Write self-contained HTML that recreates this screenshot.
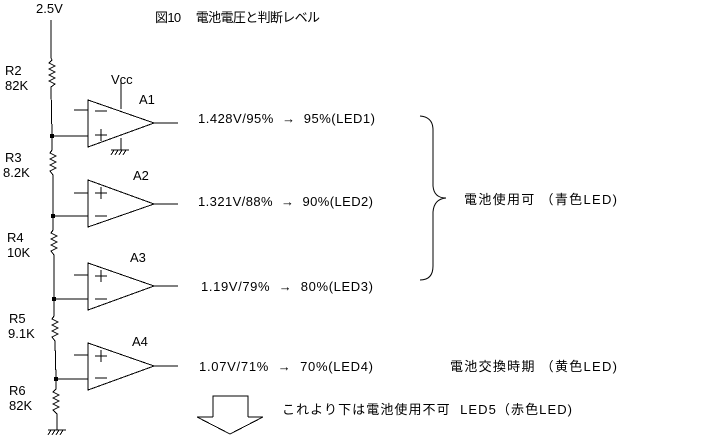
<!DOCTYPE html>
<html><head><meta charset="utf-8"><style>
html,body{margin:0;padding:0;background:#fff;}
svg{display:block;}
text{font-family:"Liberation Sans","Noto Sans CJK JP",sans-serif;font-size:13px;fill:#000;white-space:pre;}
</style></head><body>
<svg width="722" height="444" viewBox="0 0 722 444" xmlns="http://www.w3.org/2000/svg" xml:space="preserve">
<g stroke="#000" stroke-width="1" fill="none" shape-rendering="crispEdges">
<polyline points="51,20 51,58 52,60 49,63 55,66 49,69 55,72 49,75 55,78 49,81 55,84 51,87 52,136 52,150 50,153 56,156 50,159 56,162 50,165 56,168 50,171 53,175 53,216 53,230 51,233 57,236 51,239 57,242 51,245 57,248 51,251 54,255 54,299 54,316 52,319 58,322 52,325 58,328 52,331 58,334 52,337 55,341 56,379 56,389 53,392 59,395 53,398 59,401 53,404 59,407 53,410 57,414 57,430"/>
<line x1="48" y1="430" x2="66" y2="430"/>
<path d="M51,430 L48,435 M55,430 L52,435 M59,430 L56,435 M63,430 L60,435"/>
<polygon points="88,100 88,147 154,123"/>
<polygon points="88,180 88,227 154,204"/>
<polygon points="88,263 88,310 154,286"/>
<polygon points="88,343 88,390 154,366"/>
<line x1="74" y1="110" x2="88" y2="110"/><line x1="52" y1="136" x2="88" y2="136"/>
<line x1="74" y1="193" x2="88" y2="193"/><line x1="53" y1="216" x2="88" y2="216"/>
<line x1="74" y1="275" x2="88" y2="275"/><line x1="54" y1="299" x2="88" y2="299"/>
<line x1="74" y1="355" x2="88" y2="355"/><line x1="56" y1="379" x2="88" y2="379"/>
<line x1="95" y1="111" x2="107" y2="111"/>
<line x1="95" y1="135" x2="107" y2="135"/><line x1="101" y1="129" x2="101" y2="141"/>
<line x1="95" y1="193" x2="107" y2="193"/><line x1="101" y1="187" x2="101" y2="199"/>
<line x1="95" y1="216" x2="107" y2="216"/>
<line x1="95" y1="276" x2="107" y2="276"/><line x1="101" y1="270" x2="101" y2="282"/>
<line x1="95" y1="299" x2="107" y2="299"/>
<line x1="95" y1="356" x2="107" y2="356"/><line x1="101" y1="350" x2="101" y2="362"/>
<line x1="95" y1="378" x2="107" y2="378"/>
<line x1="154" y1="123" x2="178" y2="123"/>
<line x1="154" y1="204" x2="178" y2="204"/>
<line x1="154" y1="286" x2="178" y2="286"/>
<line x1="154" y1="366" x2="178" y2="366"/>
<line x1="121" y1="80" x2="121" y2="109"/>
<line x1="121" y1="138" x2="121" y2="150"/>
<line x1="111" y1="150" x2="129" y2="150"/>
<path d="M114,150 L111,155 M118,150 L115,155 M122,150 L119,155 M126,150 L123,155"/>
<polyline points="213,417 213,396 248,396 248,417"/>
<polyline points="213,417 197,417 230,434 263,417 248,417"/>
</g>
<g stroke="#000" stroke-width="1" fill="none">
<path d="M420,116 Q433,117 433,130 L433,186 Q434,198 446,198 Q434,199 433,212 L433,266 Q433,280 420,280"/>
</g>
<g fill="#000">
<rect x="50" y="134" width="4" height="4"/>
<rect x="51" y="214" width="4" height="4"/>
<rect x="52" y="297" width="4" height="4"/>
<rect x="54" y="377" width="4" height="4"/>
</g>
<text x="36" y="13" font-size="11">2.5V</text>
<text x="155" y="22" font-size="12" textLength="165">図10　 電池電圧と判断レベル</text>
<text x="5" y="75" font-size="11">R2</text><text x="5" y="90" font-size="11">82K</text>
<text x="5" y="162" font-size="11">R3</text><text x="3" y="177" font-size="11">8.2K</text>
<text x="7" y="242" font-size="11">R4</text><text x="7" y="257" font-size="11">10K</text>
<text x="9" y="323" font-size="11">R5</text><text x="8" y="338" font-size="11">9.1K</text>
<text x="9" y="395" font-size="11">R6</text><text x="9" y="410" font-size="11">82K</text>
<text x="111" y="84" font-size="11">Vcc</text>
<text x="139" y="104" font-size="11">A1</text>
<text x="133" y="180" font-size="11">A2</text>
<text x="130" y="262" font-size="11">A3</text>
<text x="132" y="346" font-size="11">A4</text>
<text x="198" y="123" textLength="177">1.428V/95%  →  95%(LED1)</text>
<text x="198" y="206" textLength="175">1.321V/88%  →  90%(LED2)</text>
<text x="201" y="291" textLength="172">1.19V/79%  →  80%(LED3)</text>
<text x="199" y="371" textLength="174">1.07V/71%  →  70%(LED4)</text>
<text x="464" y="204" textLength="153">電池使用可 （青色LED)</text>
<text x="450" y="371" textLength="167">電池交換時期 （黄色LED)</text>
<text x="282" y="414" textLength="290">これより下は電池使用不可  LED5（赤色LED)</text>
</svg>
</body></html>
